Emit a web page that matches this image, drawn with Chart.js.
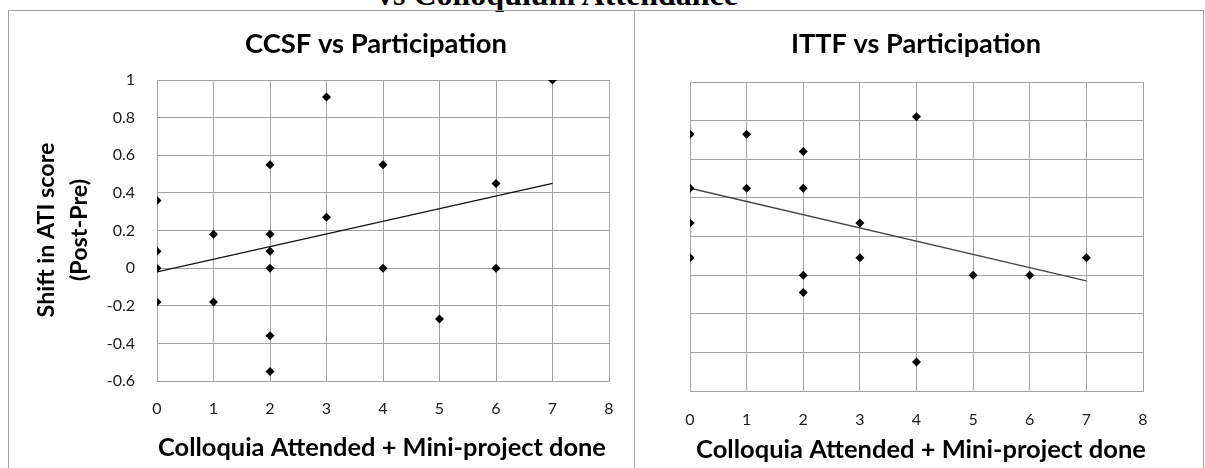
<!DOCTYPE html>
<html>
<head>
<meta charset="utf-8">
<script src="https://cdn.jsdelivr.net/npm/chart.js@4.4.1/dist/chart.umd.min.js"></script>
<style>
  html, body { margin: 0; padding: 0; background: #fff; }
  #wrap { position: relative; width: 1205px; height: 468px; overflow: hidden; }
  .heading {
    position: absolute; left: 377px; top: -22px; white-space: nowrap;
    font: bold 32px "Liberation Serif", "Times New Roman", serif; line-height: 32px; color: #000;
  }
  .frame { position: absolute; border: 1px solid #a3a3a3; }
  canvas { position: absolute; top: 0; }
</style>
</head>
<body>
<div id="wrap">
  <div class="heading">vs Colloquium Attendance</div>
  <div class="frame" style="left:8px; top:10px; width:625px; height:480px;"></div>
  <div class="frame" style="left:634px; top:10px; width:568px; height:480px;"></div>
  <canvas id="ccsf" width="634" height="468" style="left:0"></canvas>
  <canvas id="ittf" width="571" height="468" style="left:634px"></canvas>
</div>
<script>
// axis ticks shared by both panels
const xTickValues = [0, 1, 2, 3, 4, 5, 6, 7, 8];
const yTickValues = [-0.6, -0.4, -0.2, 0, 0.2, 0.4, 0.6, 0.8, 1];
const yTickLabels = ['-0.6', '-0.4', '-0.2', '0', '0.2', '0.4', '0.6', '0.8', '1'];

// CCSF shift per participant
const ccsfX = [0, 0, 0, 0, 1, 1, 2, 2, 2, 2, 2, 2, 3, 3, 4, 4, 5, 6, 6, 7];
const ccsfY = [0.36, 0.09, 0, -0.18, 0.18, -0.18, 0.55, 0.18, 0.09, 0, -0.36, -0.55, 0.91, 0.27, 0.55, 0, -0.27, 0.45, 0, 1];
const ccsfTrendX = [0, 7];
const ccsfTrendY = [-0.02, 0.45];

// ITTF shift per participant
const ittfX = [0, 0, 0, 0, 1, 1, 2, 2, 2, 2, 3, 3, 4, 4, 5, 6, 7];
const ittfY = [0.73, 0.45, 0.27, 0.09, 0.73, 0.45, 0.64, 0.45, 0, -0.09, 0.27, 0.09, 0.82, -0.45, 0, 0, 0.09];
const ittfTrendX = [0, 7];
const ittfTrendY = [0.45, -0.03];

const FONT = 'Lato, "Open Sans", sans-serif';
const GRID = '#a3a3a3';

const pts = (xs, ys) => xs.map((x, i) => ({ x, y: ys[i] }));

// pick a bold size that makes the text span the given width
function fitFont(ctx, text, width) {
  ctx.font = 'bold 100px ' + FONT;
  const size = 100 * width / ctx.measureText(text).width;
  return 'bold ' + size.toFixed(2) + 'px ' + FONT;
}

// chart title and axis titles, drawn straight onto the canvas
const panelText = {
  id: 'panelText',
  afterDraw(chart, args, o) {
    const ctx = chart.ctx;
    ctx.save();
    ctx.fillStyle = '#000';
    ctx.textBaseline = 'middle';
    ctx.textAlign = 'center';
    ctx.font = fitFont(ctx, o.title, o.titleW);
    ctx.fillText(o.title, o.titleX, o.titleY);
    ctx.font = fitFont(ctx, o.xTitle, o.xTitleW);
    ctx.fillText(o.xTitle, o.xTitleX, o.xTitleY);
    if (o.yTitle) {
      ctx.font = fitFont(ctx, o.yTitle[0], o.yTitleW);
      ctx.translate(o.yTitleX, o.yTitleY);
      ctx.rotate(-Math.PI / 2);
      o.yTitle.forEach((t, i) => ctx.fillText(t, 0, i * o.yTitleGap));
    }
    ctx.restore();
  }
};

function makePanel(id, cfg) {
  const ctx = document.getElementById(id).getContext('2d');
  return new Chart(ctx, {
    type: 'scatter',
    data: {
      datasets: [{
        data: pts(cfg.x, cfg.y),
        pointStyle: 'rectRot',
        pointRadius: 4.5,
        backgroundColor: '#000',
        borderWidth: 0,
        showLine: false
      }, {
        data: pts(cfg.trendX, cfg.trendY),
        showLine: true,
        pointRadius: 0,
        borderColor: cfg.trendColor,
        borderWidth: 1.3,
        fill: false
      }]
    },
    options: {
      responsive: false, animation: false,
      layout: { padding: { top: cfg.top, right: cfg.right, left: 0, bottom: 0 } },
      plugins: {
        legend: { display: false },
        tooltip: { enabled: false },
        panelText: cfg.text
      },
      scales: {
        x: {
          type: 'linear', min: 0, max: 8,
          afterFit: s => { s.height = cfg.xAxisH; },
          afterBuildTicks: s => { s.ticks = xTickValues.map(v => ({ value: v })); },
          ticks: { padding: cfg.xPad, color: '#1a1a1a', font: { size: 16, family: FONT }, callback: v => String(v) },
          grid: { color: GRID, lineWidth: 1, drawTicks: false },
          border: { color: GRID }
        },
        y: {
          type: 'linear', min: -0.6, max: 1,
          afterFit: s => { s.width = cfg.yAxisW; },
          afterBuildTicks: s => { s.ticks = yTickValues.map(v => ({ value: v })); },
          ticks: {
            display: cfg.yLabels, padding: 22, color: '#1a1a1a',
            font: { size: 16, family: FONT },
            callback: (v, i) => yTickLabels[i]
          },
          grid: { color: GRID, lineWidth: 1, drawTicks: false },
          border: { color: GRID }
        }
      }
    },
    plugins: [panelText]
  });
}

makePanel('ccsf', {
  x: ccsfX, y: ccsfY, trendX: ccsfTrendX, trendY: ccsfTrendY, trendColor: '#111',
  top: 80, right: 25, xAxisH: 87, yAxisW: 157, xPad: 18, yLabels: true,
  text: {
    title: 'CCSF vs Participation', titleW: 262, titleX: 376, titleY: 44,
    xTitle: 'Colloquia Attended + Mini-project done', xTitleW: 448, xTitleX: 382, xTitleY: 448,
    yTitle: ['Shift in ATI score', '(Post-Pre)'], yTitleW: 175, yTitleX: 46, yTitleY: 230, yTitleGap: 33
  }
});

makePanel('ittf', {
  x: ittfX, y: ittfY, trendX: ittfTrendX, trendY: ittfTrendY, trendColor: '#444',
  top: 82, right: 62, xAxisH: 77, yAxisW: 56, xPad: 19, yLabels: false,
  text: {
    title: 'ITTF vs Participation', titleW: 250, titleX: 282, titleY: 44,
    xTitle: 'Colloquia Attended + Mini-project done', xTitleW: 450, xTitleX: 287, xTitleY: 450
  }
});
</script>
</body>
</html>
